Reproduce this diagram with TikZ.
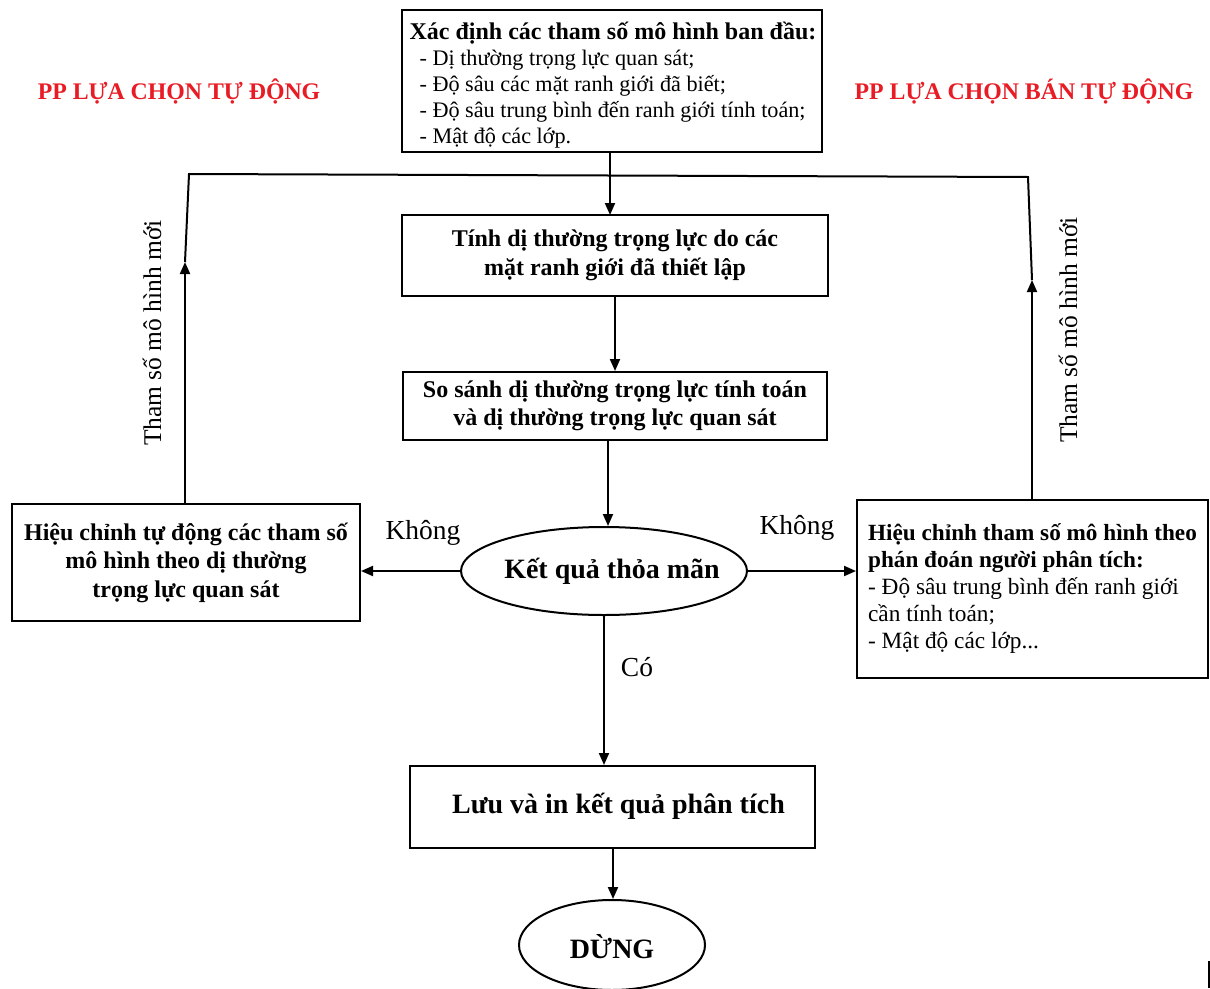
\documentclass[tikz,border=0pt]{standalone}
\usepackage{fontspec}
\setmainfont{Liberation Serif}
\usetikzlibrary{arrows.meta,shapes.geometric}
\definecolor{lblred}{RGB}{232,28,36}
\tikzset{
  box/.style={draw, line width=2pt, inner sep=0pt, align=center,
    font=\fontsize{24}{28.5}\selectfont\bfseries},
  oval/.style={draw, line width=2pt, ellipse, inner sep=0pt},
  ovaltxt/.style={inner sep=0pt, font=\fontsize{28}{30}\selectfont\bfseries},
  conn/.style={line width=2pt},
  arr/.style={conn, -{Triangle[length=12pt,width=10pt]}},
  lbl/.style={font=\fontsize{27.5}{30}\selectfont},
  vlbl/.style={font=\fontsize{25.5}{30}\selectfont, rotate=90},
  redlbl/.style={text=lblred, font=\fontsize{23.8}{26}\selectfont\bfseries},
}
\begin{document}
\begin{tikzpicture}[x=1pt,y=-1pt]
\useasboundingbox (0,0) rectangle (1210,988);

% top box
\node[box, minimum width=420pt, minimum height=142pt] (init) at (612,81) {};
\node[inner sep=0pt, align=left, font=\fontsize{22.2}{26}\selectfont] (initt) at (613,85)
  {\textbf{\fontsize{24}{27}\selectfont Xác định các tham số mô hình ban đầu:}\\
   \hspace*{10pt}- Dị thường trọng lực quan sát;\\
   \hspace*{10pt}- Độ sâu các mặt ranh giới đã biết;\\
   \hspace*{10pt}- Độ sâu trung bình đến ranh giới tính toán;\\
   \hspace*{10pt}- Mật độ các lớp.};

\node[redlbl] (autolbl) at (179,92) {PP LỰA CHỌN TỰ ĐỘNG};
\node[redlbl] (semilbl) at (1024,92) {PP LỰA CHỌN BÁN TỰ ĐỘNG};

% box 2
\node[box, minimum width=426pt, minimum height=81pt] (calc) at (615,255.5)
  {Tính dị thường trọng lực do các\\mặt ranh giới đã thiết lập};
% box 3
\node[box, minimum width=424pt, minimum height=68pt] (cmp) at (615,406)
  {So sánh dị thường trọng lực tính toán\\và dị thường trọng lực quan sát};
% decision
\node[oval, minimum width=286pt, minimum height=88pt] (dec) at (604,571) {};
\node[ovaltxt] (dect) at (612,571) {Kết quả thỏa mãn};
% left box
\node[box, minimum width=348pt, minimum height=117pt] (auto) at (186,562.5)
  {Hiệu chỉnh tự động các tham số\\mô hình theo dị thường\\trọng lực quan sát};
% right box
\node[box, minimum width=351pt, minimum height=178pt, align=left,
  font=\fontsize{23.3}{27}\selectfont] (semi) at (1032.5,589)
  {\textbf{\fontsize{23.2}{27}\selectfont Hiệu chỉnh tham số mô hình theo}\\
   \textbf{\fontsize{23.2}{27}\selectfont phán đoán người phân tích:}\\
   - Độ sâu trung bình đến ranh giới\\
   cần tính toán;\\
   - Mật độ các lớp...};
% save box
\node[box, minimum width=405pt, minimum height=82pt] (save) at (612.5,807) {};
\node[ovaltxt] (savet) at (618.5,806) {Lưu và in kết quả phân tích};
% stop
\node[oval, minimum width=186pt, minimum height=90pt] (stop) at (612,945) {};
\node[ovaltxt] (stopt) at (612,947) {DỪNG};

% coordinates
\coordinate (lbot) at (185,503);
\coordinate (lmid) at (185,262);
\coordinate (ltop) at (189,174);
\coordinate (rtop) at (1028,177);
\coordinate (rmid) at (1032,280);
\coordinate (rbot) at (1032,500);
\coordinate (ctop) at (610,152);
\coordinate (c2) at (610,215);

% connectors
\draw[arr] (ctop) -- (c2);
\draw[arr] (lbot) -- (lmid);
\draw[conn] (lmid) -- (ltop) -- (rtop) -- (rmid);
\draw[arr] (rbot) -- (rmid);
\draw[arr] (calc.south -| 615,0) -- (cmp.north -| 615,0);
\draw[arr] (cmp.south -| 608,0) -- (dec.north -| 608,0);
\draw[arr] (dec.west) -- (dec.west -| auto.east);
\draw[arr] (dec.east) -- (dec.east -| semi.west);
\draw[arr] (dec.south) -- (save.north -| dec.south);
\draw[arr] (save.south -| 613,0) -- (stop.north -| 613,0);

% labels
\node[lbl] (no1) at (423,533) {Không};
\node[lbl] (no2) at (797,528) {Không};
\node[lbl] (yes) at (637,667) {Có};
\node[vlbl] (newl) at (152,333) {Tham số mô hình mới};
\node[vlbl] (newr) at (1068,330) {Tham số mô hình mới};

% edge mark bottom right
\coordinate (em1) at (1209,961);
\coordinate (em2) at (1209,988);
\draw[line width=1.2pt] (em1) -- (em2);
\end{tikzpicture}
\end{document}
